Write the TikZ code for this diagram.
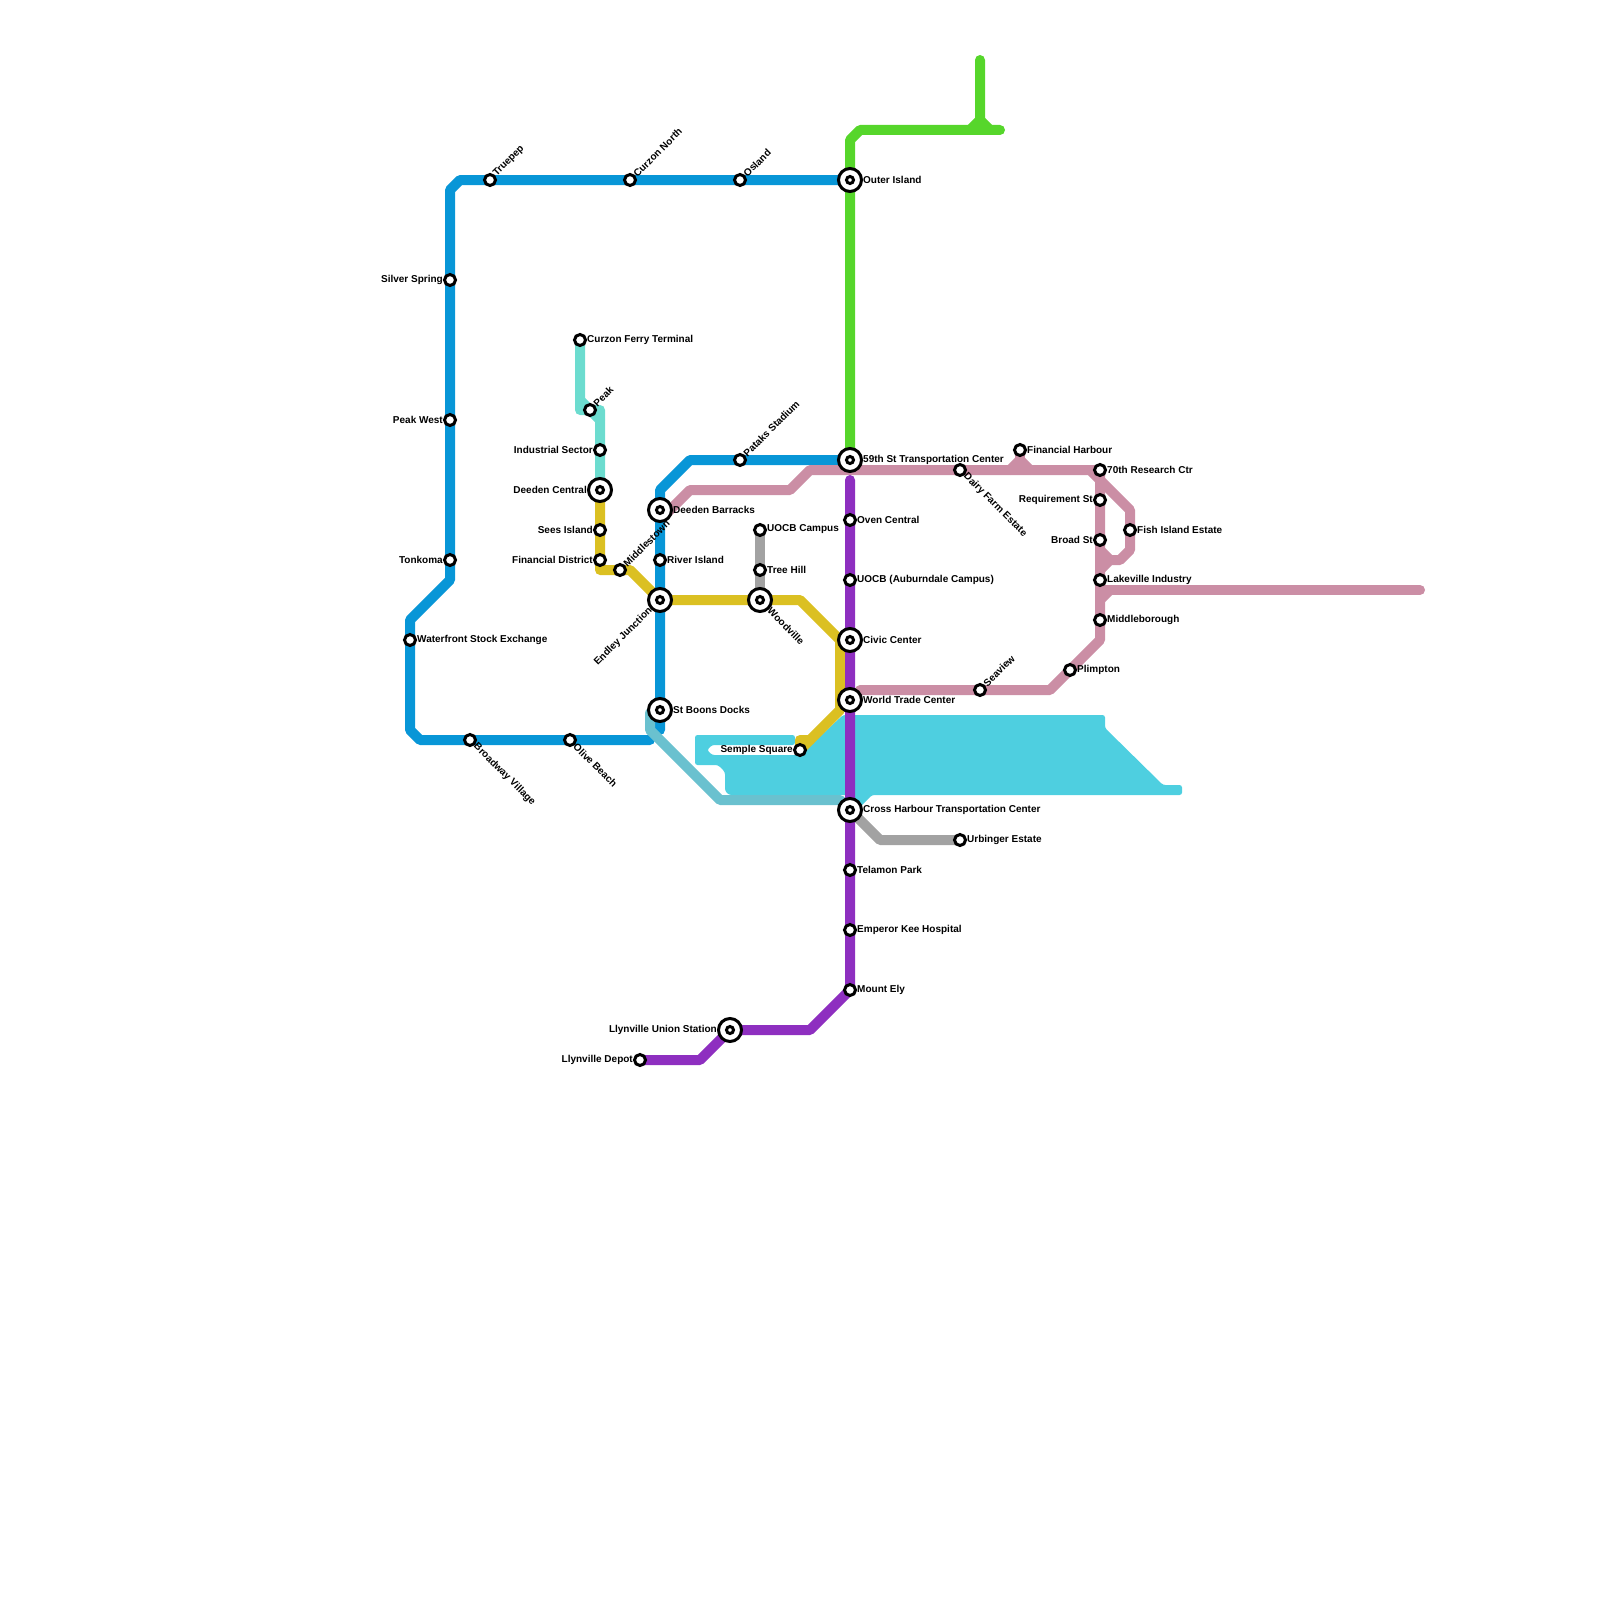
\documentclass[tikz,border=0pt]{standalone}
\usepackage{fontspec}
\setmainfont{Liberation Sans}
\usetikzlibrary{backgrounds}
\definecolor{lineblue}{HTML}{0896D7}
\definecolor{linegreen}{HTML}{56D62B}
\definecolor{linepurple}{HTML}{8E2FC0}
\definecolor{linepink}{HTML}{CB8EA5}
\definecolor{lineyellow}{HTML}{DBC022}
\definecolor{linemint}{HTML}{6CDCCF}
\definecolor{lineteal}{HTML}{6AC1CF}
\definecolor{linegrey}{HTML}{A2A2A2}
\definecolor{linecyan}{HTML}{4ECFE0}
\begin{document}
\begin{tikzpicture}[
  x=10pt, y=-10pt,
  font=\fontsize{10}{11}\selectfont\bfseries,
  stn/.style={circle, draw=black, fill=white, line width=3pt, minimum size=11pt, inner sep=0pt, label distance=1.5pt},
  hub/.style={circle, draw=black, fill=white, line width=3pt, minimum size=23pt, inner sep=0pt, label distance=2pt,
              path picture={\draw[line width=3pt] (path picture bounding box.center) circle (3.5pt);}},
  lbl/.style={inner sep=0pt, text=black},
  lblr/.style={lbl, anchor=west, yshift=0.5pt},
  lbll/.style={lbl, anchor=east, yshift=0.5pt},
  lblne/.style={lbl, anchor=west, rotate=45},
  lblse/.style={lbl, anchor=west, rotate=-45},
  lblsw/.style={lbl, anchor=east, rotate=45},
  ln/.style={line width=10pt, line cap=round, line join=round}
]
\useasboundingbox (0,0) rectangle (160,160);

% Stations, outer blue line
\node[hub, label={[lblr]right:Outer Island}] (outer) at (85,18) {};
\node[stn, label={[lblne]45:Osland}] (osland) at (74,18) {};
\node[stn, label={[lblne]45:Curzon North}] (curzonn) at (63,18) {};
\node[stn, label={[lblne]45:Truepep}] (truepep) at (49,18) {};
\node[stn, label={[lbll]left:Silver Spring}] (silver) at (45,28) {};
\node[stn, label={[lbll]left:Peak West}] (peakw) at (45,42) {};
\node[stn, label={[lbll]left:Tonkoma}] (tonkoma) at (45,56) {};
\node[stn, label={[lblr]right:Waterfront Stock Exchange}] (waterfront) at (41,64) {};
\node[stn, label={[lblse]-45:Broadway Village}] (broadway) at (47,74) {};
\node[stn, label={[lblse]-45:Olive Beach}] (olive) at (57,74) {};

% Stations, inner blue line
\node[hub, label={[lblr]right:59th St Transportation Center}] (fiftynine) at (85,46) {};
\node[stn, label={[lblne]45:Pataks Stadium}] (pataks) at (74,46) {};
\node[hub, label={[lblr]right:Deeden Barracks}] (barracks) at (66,51) {};
\node[stn, label={[lblr]right:River Island}] (river) at (66,56) {};
\node[hub, label={[lblsw]225:Endley Junction}] (endley) at (66,60) {};
\node[hub, label={[lblr]right:St Boons Docks}] (boons) at (66,71) {};

% Stations, mint and yellow lines
\node[stn, label={[lblr]right:Curzon Ferry Terminal}] (ferry) at (58,34) {};
\node[stn, label={[lblne]45:Peak}] (peak) at (59,41) {};
\node[stn, label={[lbll]left:Industrial Sector}] (industrial) at (60,45) {};
\node[hub, label={[lbll]left:Deeden Central}] (central) at (60,49) {};
\node[stn, label={[lbll]left:Sees Island}] (sees) at (60,53) {};
\node[stn, label={[lbll]left:Financial District}] (findist) at (60,56) {};
\node[stn, label={[lblne]45:Middlestown}] (middlest) at (62,57) {};
\node[hub, label={[lblse]-45:Woodville}] (woodville) at (76,60) {};
\node[stn, label={[lblr]right:Tree Hill}] (treehill) at (76,57) {};
\node[stn, label={[lblr]right:UOCB Campus}] (uocbc) at (76,53) {};
\node[stn, label={[lbll]left:Semple Square}] (semple) at (80,75) {};

% Stations, purple line
\node[stn, label={[lblr]right:Oven Central}] (oven) at (85,52) {};
\node[stn, label={[lblr]right:UOCB (Auburndale Campus)}] (uocba) at (85,58) {};
\node[hub, label={[lblr]right:Civic Center}] (civic) at (85,64) {};
\node[hub, label={[lblr]right:World Trade Center}] (wtc) at (85,70) {};
\node[hub, label={[lblr]right:Cross Harbour Transportation Center}] (cross) at (85,81) {};
\node[stn, label={[lblr]right:Urbinger Estate}] (urbinger) at (96,84) {};
\node[stn, label={[lblr]right:Telamon Park}] (telamon) at (85,87) {};
\node[stn, label={[lblr]right:Emperor Kee Hospital}] (emperor) at (85,93) {};
\node[stn, label={[lblr]right:Mount Ely}] (ely) at (85,99) {};
\node[hub, label={[lbll]left:Llynville Union Station}] (union) at (73,103) {};
\node[stn, label={[lbll]left:Llynville Depot}] (depot) at (64,106) {};

% Stations, pink line
\node[stn, label={[lblse]-45:Dairy Farm Estate}] (dairy) at (96,47) {};
\node[stn, label={[lblr]right:Financial Harbour}] (finharb) at (102,45) {};
\node[stn, label={[lblr]right:70th Research Ctr}] (seventy) at (110,47) {};
\node[stn, label={[lbll]left:Requirement St}] (require) at (110,50) {};
\node[stn, label={[lbll]left:Broad St}] (broad) at (110,54) {};
\node[stn, label={[lblr]right:Fish Island Estate}] (fish) at (113,53) {};
\node[stn, label={[lblr]right:Lakeville Industry}] (lakeville) at (110,58) {};
\node[stn, label={[lblr]right:Middleborough}] (middleb) at (110,62) {};
\node[stn, label={[lblr]right:Plimpton}] (plimpton) at (107,67) {};
\node[stn, label={[lblne]45:Seaview}] (seaview) at (98,69) {};

% Helper coordinates
\coordinate (bt1) at (46,18);
\coordinate (bt2) at (45,19);
\coordinate (bt3) at (45,58);
\coordinate (bt4) at (41,62);
\coordinate (bt5) at (41,73);
\coordinate (bt6) at (42,74);
\coordinate (bt7) at (65,74);
\coordinate (bi1) at (69,46);
\coordinate (bi2) at (66,49);
\coordinate (bi3) at (66,73);
\coordinate (gr1) at (85,14);
\coordinate (gr2) at (86,13);
\coordinate (gr3) at (100,13);
\coordinate (gr4) at (98,6);
\coordinate (gr5) at (98,12);
\coordinate (gr6) at (97,13);
\coordinate (gr7) at (99,13);
\coordinate (pu1) at (85,48);
\coordinate (pu2) at (81,103);
\coordinate (pu3) at (70,106);
\coordinate (pk0) at (66.4,51.6);
\coordinate (pk1) at (69,49);
\coordinate (pk2) at (79,49);
\coordinate (pk3) at (81,47);
\coordinate (pk4) at (109,47);
\coordinate (pk5) at (110,48);
\coordinate (pk6) at (110,64);
\coordinate (pk7) at (105,69);
\coordinate (pk8) at (86,69);
\coordinate (pk9) at (113,51);
\coordinate (pk10) at (113,55);
\coordinate (pk11) at (112,56);
\coordinate (pk12) at (111,56);
\coordinate (pk13) at (110,57);
\coordinate (pk14) at (110,55);
\coordinate (pk15) at (110,60);
\coordinate (pk16) at (111,59);
\coordinate (pk17) at (142,59);
\coordinate (pk18) at (110,59);
\coordinate (pk19) at (101,47);
\coordinate (pk20) at (102,46);
\coordinate (pk21) at (103,47);
\coordinate (ye1) at (60,57);
\coordinate (ye2) at (63,57);
\coordinate (ye3) at (80,60);
\coordinate (ye4) at (84,64);
\coordinate (ye5) at (84,71);
\coordinate (ye6) at (81,74);
\coordinate (ye7) at (80,74);
\coordinate (mi1) at (58,41);
\coordinate (mi2) at (60,42);
\coordinate (mi3) at (58,40);
\coordinate (mi4) at (60,41);
\coordinate (te1) at (65,71.3);
\coordinate (te2) at (65,73);
\coordinate (te3) at (72,80);
\coordinate (te4) at (84,80);
\coordinate (gy1) at (88,84);

\begin{scope}[on background layer]
% Harbour area
\fill[linecyan, rounded corners=2.5pt] (69.5,73.5) -- (79.5,73.5) -- (79.5,74.5) -- (71.2,74.5)
  -- (70.7,75) -- (71.2,75.5) -- (80,75.5) -- (84.3,71.5) -- (110.5,71.5) -- (110.5,72.8)
  -- (116.3,78.5) -- (118.2,78.5) -- (118.2,79.5) -- (87.2,79.5) -- (85.7,81) -- (84.8,79.5)
  -- (72.9,79.5) -- (72.5,79.1) -- (72.5,77.2) -- (71.8,76.5) -- (69.5,76.5) -- cycle;

% Blue lines
\draw[ln, lineblue] (outer.center) -- (bt1) -- (bt2) -- (bt3) -- (bt4) -- (bt5) -- (bt6) -- (bt7);
\draw[ln, lineblue] (fiftynine.center) -- (bi1) -- (bi2) -- (bi3);

% Green line
\draw[ln, linegreen] (fiftynine.center) -- (gr1) -- (gr2) -- (gr3);
\draw[ln, linegreen] (gr4) -- (gr5) -- (gr6);
\draw[ln, linegreen] (gr5) -- (gr7);

% Pink line
\draw[ln, linepink] (pk0) -- (pk1) -- (pk2) -- (pk3) -- (pk4) -- (pk5) -- (pk6) -- (pk7) -- (pk8);
\draw[ln, linepink] (pk4) -- (seventy.center) -- (pk5) -- (pk9) -- (pk10) -- (pk11) -- (pk12) -- (pk13);
\draw[ln, linepink] (pk14) -- (pk12);
\draw[ln, linepink] (pk18) -- (pk17);
\draw[ln, linepink] (pk15) -- (pk16);
\draw[ln, linepink] (pk19) -- (pk20) -- (pk21);
\draw[ln, linepink] (pk20) -- (finharb.center);

% Yellow line
\draw[ln, lineyellow] (central.center) -- (ye1) -- (ye2) -- (endley.center) -- (ye3) -- (ye4) -- (ye5) -- (semple.center);
\draw[ln, lineyellow] (ye6) -- (ye7) -- (semple.center);

% Mint line
\draw[ln, linemint] (ferry.center) -- (mi1) -- (peak.center) -- (mi2) -- (central.center);
\draw[ln, linemint] (mi3) -- (peak.center) -- (mi4) -- (mi2);

% Teal line
\draw[ln, lineteal] (boons.center) -- (te1) -- (te2) -- (te3) -- (te4) -- (cross.center);

% Grey lines
\draw[ln, linegrey] (uocbc.center) -- (woodville.center);
\draw[ln, linegrey] (cross.center) -- (gy1) -- (urbinger.center);

% Purple line
\draw[ln, linepurple] (pu1) -- (ely.center) -- (pu2) -- (union.center) -- (pu3) -- (depot.center);
\end{scope}

\end{tikzpicture}
\end{document}
